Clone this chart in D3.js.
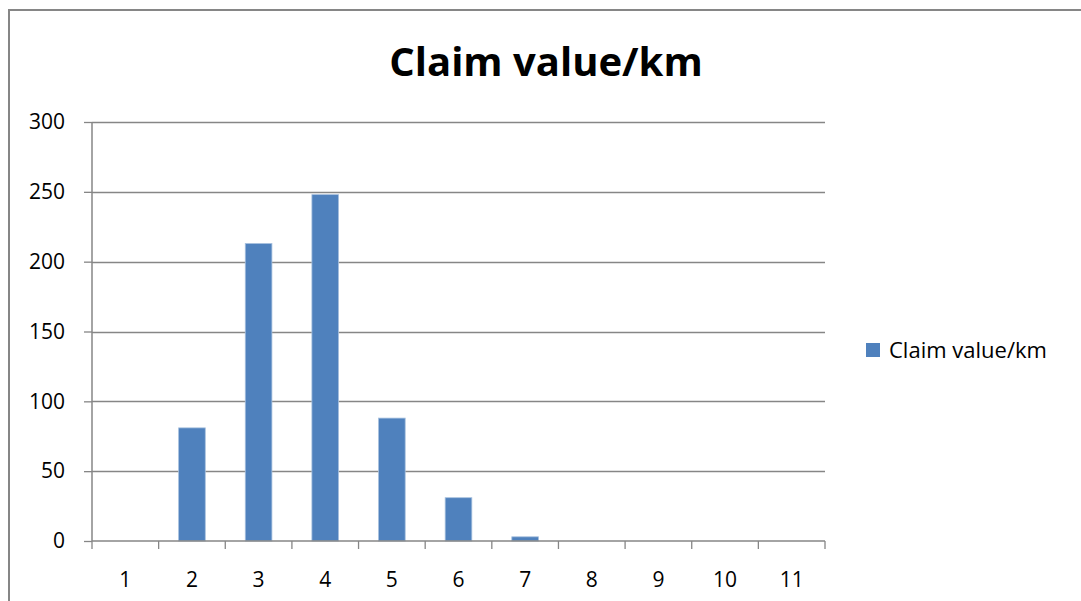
<!DOCTYPE html>
<html>
<head>
<meta charset="utf-8">
<script src="https://cdn.jsdelivr.net/npm/d3@7"></script>
<style>
  body { margin: 0; background: #fff; }
  text { font-family: "Open Sans", "Noto Sans", sans-serif; fill: #000; }
</style>
</head>
<body>
<script>
var categories = ["1", "2", "3", "4", "5", "6", "7", "8", "9", "10", "11"];
var values = [0, 81, 213, 248, 88, 31, 3, 0, 0, 0, 0];
var yTicks = [0, 50, 100, 150, 200, 250, 300];
var seriesName = "Claim value/km";
var chartTitle = "Claim value/km";

var width = 1081, height = 601;
var margin = {top: 122, right: 256, bottom: 60, left: 92};
var plotW = width - margin.left - margin.right,
    plotH = height - margin.top - margin.bottom;

var svg = d3.select("body").append("svg")
    .attr("width", width)
    .attr("height", height);

// outer chart border
svg.append("path")
    .attr("d", "M9,601 V10 H1081")
    .attr("fill", "none")
    .attr("stroke", "#868686")
    .attr("stroke-width", 2);

svg.append("text")
    .attr("x", 546)
    .attr("y", 76)
    .attr("text-anchor", "middle")
    .style("font-size", "40px")
    .style("font-weight", "bold")
    .text(chartTitle);

var g = svg.append("g")
    .attr("transform", "translate(" + margin.left + "," + margin.top + ")");

var x = d3.scaleBand()
    .domain(categories)
    .range([0, plotW])
    .paddingInner(0.6)
    .paddingOuter(0.3);

var y = d3.scaleLinear()
    .domain([0, 300])
    .range([plotH, 0]);

// gridlines
g.selectAll(".grid")
    .data(yTicks.filter(function(d) { return d > 0; }))
  .enter().append("line")
    .attr("class", "grid")
    .attr("x1", 0)
    .attr("x2", plotW)
    .attr("y1", function(d) { return Math.round(y(d)) + 0.5; })
    .attr("y2", function(d) { return Math.round(y(d)) + 0.5; })
    .attr("stroke", "#868686")
    .attr("stroke-width", 1.3);

// bars
g.selectAll(".bar")
    .data(values)
  .enter().append("rect")
    .attr("class", "bar")
    .attr("x", function(d, i) { return x(categories[i]); })
    .attr("width", x.bandwidth())
    .attr("y", function(d) { return y(d); })
    .attr("height", function(d) { return plotH - y(d); })
    .attr("fill", "#4f81bd")
    .attr("stroke", function(d) { return d > 0 ? "#a7c0de" : "none"; })
    .attr("stroke-width", 0.8);

// y axis
var yAxis = d3.axisLeft(y)
    .tickValues(yTicks)
    .tickSize(8)
    .tickPadding(19);

var yg = g.append("g").call(yAxis);
yg.select(".domain").attr("stroke", "#868686").attr("stroke-width", 1.5).attr("d", "M0," + plotH + "V0");
yg.selectAll(".tick line").attr("stroke", "#868686").attr("stroke-width", 1.3);
yg.selectAll(".tick text")
    .style("font-size", "21px")
    .style("font-family", "'Open Sans', sans-serif")
    .attr("fill", "#000");

// x axis
var boundaries = d3.range(categories.length + 1).map(function(i) { return i * x.step(); });

var xg = g.append("g").attr("transform", "translate(0," + plotH + ")");
xg.append("line")
    .attr("x1", 0).attr("x2", plotW)
    .attr("stroke", "#868686")
    .attr("stroke-width", 1.5);
xg.selectAll(".xtick")
    .data(boundaries)
  .enter().append("line")
    .attr("class", "xtick")
    .attr("x1", function(d) { return d; })
    .attr("x2", function(d) { return d; })
    .attr("y1", 0)
    .attr("y2", 8)
    .attr("stroke", "#868686")
    .attr("stroke-width", 1.3);
xg.selectAll(".xlabel")
    .data(categories)
  .enter().append("text")
    .attr("class", "xlabel")
    .attr("x", function(d) { return x(d) + x.bandwidth() / 2; })
    .attr("y", 46)
    .attr("text-anchor", "middle")
    .style("font-size", "21px")
    .text(function(d) { return d; });

// legend
var legend = svg.append("g").attr("transform", "translate(866,343)");
legend.append("rect")
    .attr("width", 14)
    .attr("height", 14)
    .attr("fill", "#4f81bd");
legend.append("text")
    .attr("x", 23)
    .attr("y", 15)
    .style("font-size", "22px")
    .text(seriesName);
</script>
</body>
</html>
